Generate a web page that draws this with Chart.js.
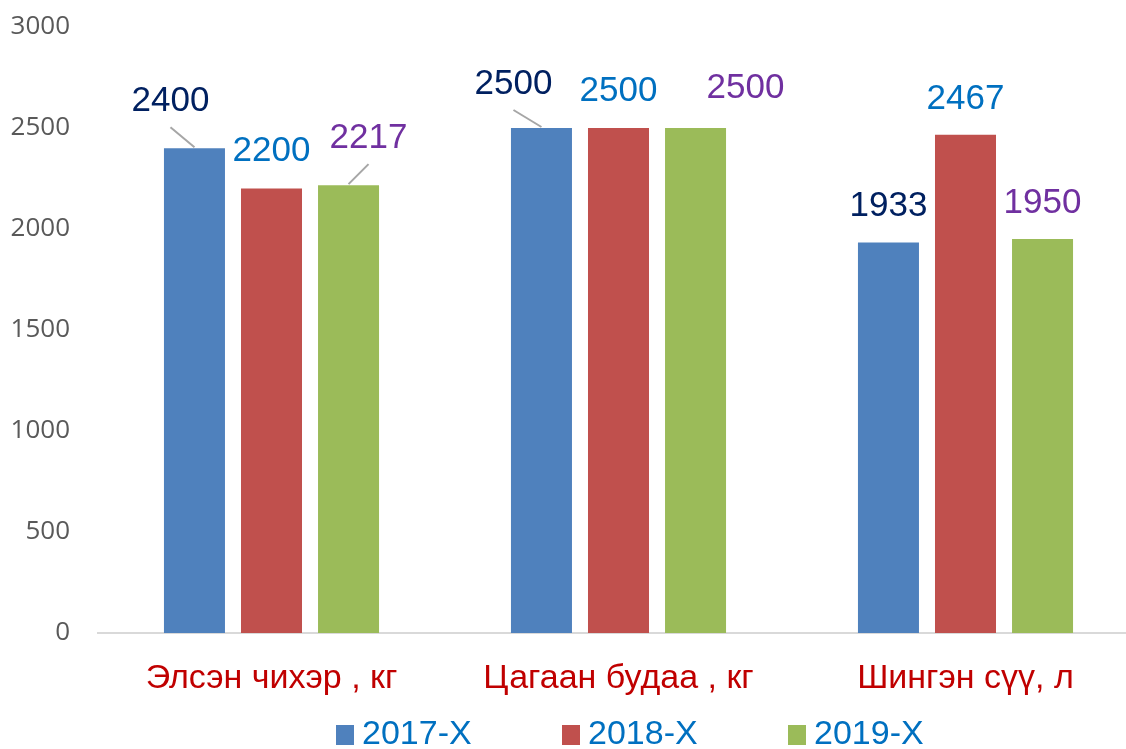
<!DOCTYPE html>
<html>
<head>
<meta charset="utf-8">
<script src="https://cdn.jsdelivr.net/npm/chart.js@4.4.1/dist/chart.umd.min.js"></script>
<style>
  html, body { margin: 0; padding: 0; background: #fff; overflow: hidden; }
  /* plot runs past the right edge in the original, so the canvas is a bit wider than the window */
  #wrap { width: 1139px; height: 749px; position: relative; }
</style>
</head>
<body>
<div id="wrap"><canvas id="chart"></canvas></div>
<script>
// data
const categories = ['Элсэн чихэр , кг', 'Цагаан будаа , кг', 'Шингэн сүү, л'];
const seriesNames = ['2017-X', '2018-X', '2019-X'];
const values2017 = [2400, 2500, 1933];
const values2018 = [2200, 2500, 2467];
const values2019 = [2217, 2500, 1950];
const yTicks = [0, 500, 1000, 1500, 2000, 2500, 3000];

// styles
const barColors = ['#4f81bd', '#c0504d', '#9bbb59'];
const labelColors = ['#002060', '#0070c0', '#7030a0'];
// label offset from bar top (text centre), lead = grey connector line
const labelPos = [
  [{dx: -24, dy: -48, lead: true}, {dx: -28, dy: -45, lead: true}, {dx: 0, dy: -37}],
  [{dx: 0, dy: -38}, {dx: 0, dy: -38}, {dx: 0, dy: -36}],
  [{dx: 20, dy: -48, lead: true}, {dx: 50, dy: -41}, {dx: 0, dy: -37}]
];
const legendStart = 336, legendStep = 226, legendY = 735;

const valueLabels = {
  id: 'valueLabels',
  afterDatasetsDraw(chart) {
    const ctx = chart.ctx;
    ctx.save();
    ctx.font = '35px "Liberation Sans", Arial, sans-serif';
    ctx.textAlign = 'center';
    ctx.textBaseline = 'middle';
    chart.data.datasets.forEach((ds, di) => {
      chart.getDatasetMeta(di).data.forEach((bar, i) => {
        const p = labelPos[di][i];
        const tx = bar.x + p.dx, ty = bar.y + p.dy;
        if (p.lead) {
          ctx.strokeStyle = '#a6a6a6';
          ctx.lineWidth = 2;
          ctx.beginPath();
          ctx.moveTo(tx, ty + 27);
          ctx.lineTo(bar.x, bar.y - 1);
          ctx.stroke();
        }
        ctx.fillStyle = labelColors[di];
        ctx.fillText(ds.data[i], tx, ty + 1);
      });
    });
    ctx.restore();
  }
};

const bottomLegend = {
  id: 'bottomLegend',
  afterDraw(chart) {
    const ctx = chart.ctx;
    ctx.save();
    ctx.font = '34px "Liberation Sans", Arial, sans-serif';
    ctx.textBaseline = 'middle';
    ctx.textAlign = 'left';
    chart.data.datasets.forEach((ds, i) => {
      const x = legendStart + i * legendStep;
      ctx.fillStyle = ds.backgroundColor;
      ctx.fillRect(x, legendY - 10, 18, 20);
      ctx.fillStyle = '#0070c0';
      ctx.fillText(ds.label, x + 26, legendY);
    });
    ctx.restore();
  }
};

const mkSet = (i, data) => ({
  label: seriesNames[i],
  data: data,
  backgroundColor: barColors[i],
  borderWidth: 0,
  categoryPercentage: 0.666,
  barPercentage: 0.792
});

new Chart(document.getElementById('chart'), {
  type: 'bar',
  data: {
    labels: categories,
    datasets: [mkSet(0, values2017), mkSet(1, values2018), mkSet(2, values2019)]
  },
  options: {
    responsive: true,
    maintainAspectRatio: false,
    animation: false,
    layout: { padding: { top: 27, right: 0, bottom: 36, left: 0 } },
    plugins: { legend: { display: false }, tooltip: { enabled: false } },
    scales: {
      x: {
        grid: { display: false, drawTicks: false },
        border: { display: true, color: '#d9d9d9', width: 2 },
        ticks: {
          color: '#c00000',
          font: { family: '"Liberation Sans", Arial, sans-serif', size: 34 },
          padding: 25,
          maxRotation: 0
        },
        afterFit: s => { s.height = 80; }
      },
      y: {
        min: 0,
        max: 3000,
        afterBuildTicks: s => { s.ticks = yTicks.map(v => ({ value: v })); },
        grid: { display: false, drawTicks: false },
        border: { display: false },
        ticks: {
          color: '#595959',
          font: { family: '"Open Sans", sans-serif', size: 26 },
          padding: 28,
          callback: v => String(v)
        },
        afterFit: s => { s.width = 98; s.paddingTop = 0; s.paddingBottom = 0; }
      }
    }
  },
  plugins: [valueLabels, bottomLegend]
});
</script>
</body>
</html>
